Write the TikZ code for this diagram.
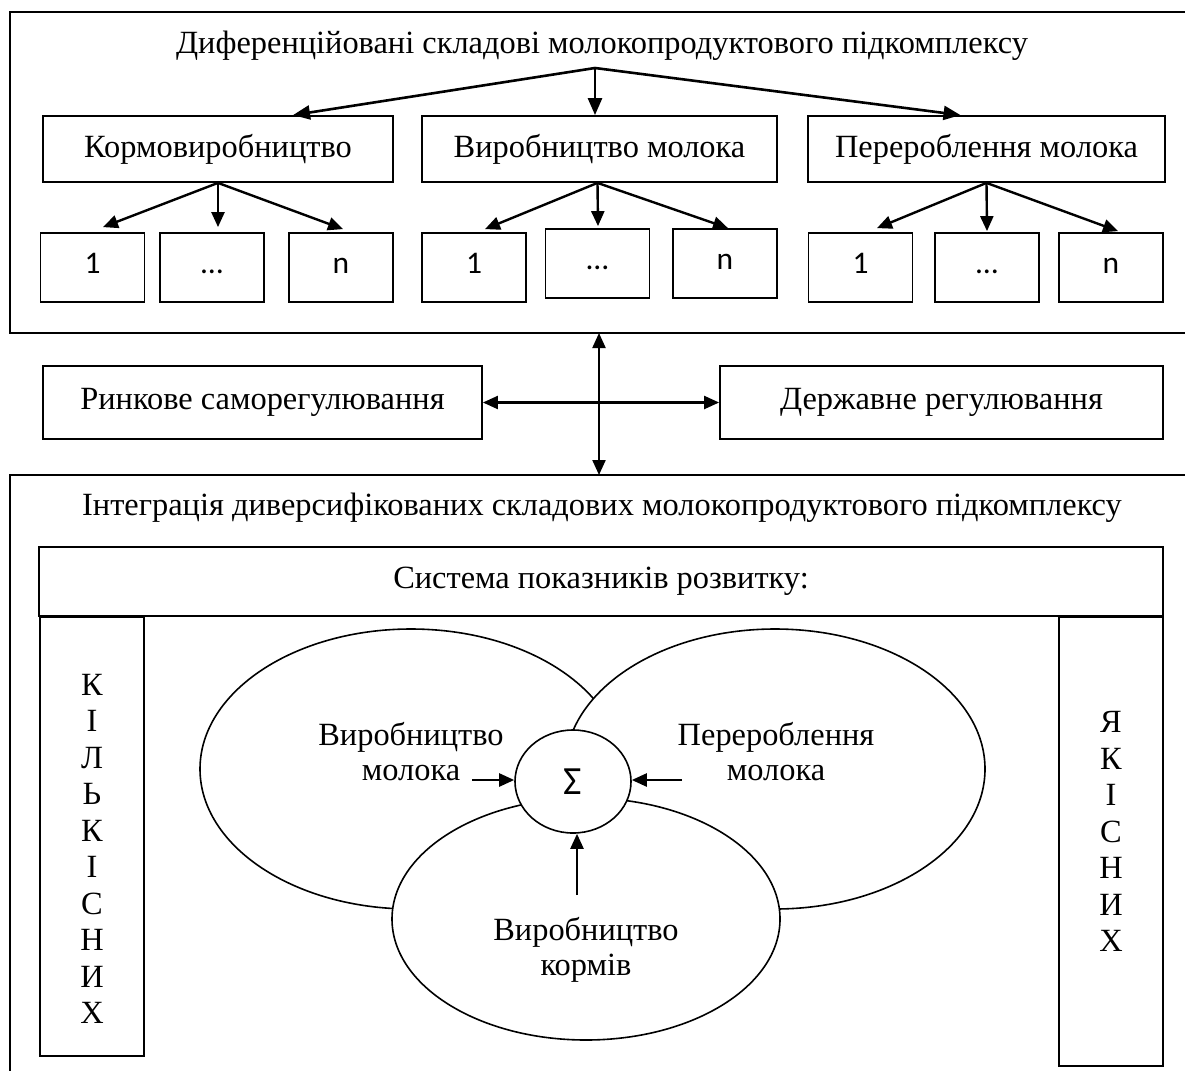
\documentclass[tikz,border=0pt]{standalone}
\usepackage{fontspec}
\setmainfont{Liberation Serif}
\newfontfamily\calib{Carlito}
\usetikzlibrary{shapes.geometric,arrows.meta,calc}
\begin{document}
\begin{tikzpicture}[x=1pt,y=-1pt,
  frame/.style={line width=1.9pt},
  txt/.style={font=\fontsize{32.4}{36.5}\selectfont, inner sep=0pt},
  box/.style={draw, line width=1.8pt, rectangle, inner sep=0pt, font=\fontsize{32.4}{36.5}\selectfont},
  numbox/.style={draw, line width=1.8pt, rectangle, minimum width=104pt, minimum height=69pt, inner sep=0pt, text height=20pt, text depth=9pt, font=\calib\fontsize{31.5}{36}\selectfont},
  arr/.style={line width=2.6pt, -{Triangle[length=17pt,width=14pt]}},
  sarr/.style={line width=2.4pt, -{Triangle[length=15pt,width=13pt]}},
  darr/.style={line width=2.2pt, {Triangle[length=15pt,width=13pt]}-{Triangle[length=15pt,width=13pt]}},
  ell/.style={draw, ellipse, line width=1.6pt, fill=white, inner sep=0pt},
]
\useasboundingbox (0,0) rectangle (1185,1071);
% ---------- top frame ----------
\draw[frame] (1185,12) -- (10,12) -- (10,333) -- (1185,333);
\node[txt,anchor=base] (t1) at (602,53) {Диференційовані складові молокопродуктового підкомплексу};
\coordinate (j) at (595,68);
\node[box,minimum width=350pt,minimum height=66pt] (k) at (218,149) {Кормовиробництво};
\node[box,minimum width=355pt,minimum height=66pt] (v) at (599.5,149) {Виробництво молока};
\node[box,minimum width=357pt,minimum height=66pt] (p) at (986.5,149) {Перероблення молока};
\draw[arr] (j) -- ($(k.north)+(75,0)$);
\draw[arr] (j) -- (j |- v.north);
\draw[arr] (j) -- ($(p.north)+(-26,0)$);
\node[numbox] (k1) at (92.5,267.5) {1};
\node[numbox] (k2) at (212,267.5) {…};
\node[numbox] (k3) at (341,267.5) {n};
\node[numbox] (v1) at (474,267.5) {1};
\node[numbox] (v2) at (597.5,263.5) {…};
\node[numbox] (v3) at (725,263.5) {n};
\node[numbox] (p1) at (860.5,267.5) {1};
\node[numbox] (p2) at (987,267.5) {…};
\node[numbox] (p3) at (1111,267.5) {n};
\draw[sarr] (k.south) -- ($(k1.north)+(10.5,-5)$);
\draw[sarr] (k.south) -- ($(k2.north)+(6,-5)$);
\draw[sarr] (k.south) -- ($(k3.north)+(2,-3)$);
\draw[sarr] ($(v.south)+(-2,0)$) -- ($(v1.north)+(11,-3)$);
\draw[sarr] ($(v.south)+(-2,0)$) -- ($(v2.north)+(0.5,-2)$);
\draw[sarr] ($(v.south)+(-2,0)$) -- ($(v3.north)+(3,0)$);
\draw[sarr] (p.south) -- ($(p1.north)+(16.5,-4)$);
\draw[sarr] (p.south) -- ($(p2.north)+(0,-1)$);
\draw[sarr] (p.south) -- ($(p3.north)+(7,-1)$);
% ---------- middle ----------
\coordinate (tb) at (599,333);
\coordinate (bb) at (599,475);
\draw[darr] (tb) -- (bb);
\node[box,minimum width=439pt,minimum height=73pt] (r) at (262.5,402.5) {Ринкове саморегулювання};
\node[box,minimum width=443pt,minimum height=73pt] (d) at (941.5,402.5) {Державне регулювання};
\draw[darr] (r.east) -- (d.west);
% ---------- bottom frame ----------
\draw[frame] (1185,475) -- (10,475) -- (10,1071);
\node[txt,anchor=base] (t2) at (602,515) {Інтеграція диверсифікованих складових молокопродуктового підкомплексу};
\node[box,minimum width=1124pt,minimum height=69pt] (s) at (601,581.5) {Система показників розвитку:};
\node[box,minimum width=104pt,minimum height=439pt] (lc) at (92,836.5) {};
\node[box,minimum width=104pt,minimum height=449pt] (rc) at (1111,841.5) {};
\node[txt,align=center] (lct) at (92,849) {К\\І\\Л\\Ь\\К\\І\\С\\Н\\И\\Х};
\node[txt,align=center] (rct) at (1111,831.5) {Я\\К\\І\\С\\Н\\И\\Х};
% ---------- ellipses ----------
\node[ell,minimum width=422pt,minimum height=280pt] (le) at (411,769) {};
\node[ell,minimum width=420pt,minimum height=280pt] (re) at (775,769) {};
\node[ell,minimum width=388pt,minimum height=242pt] (be) at (586,919) {};
\node[ell,minimum width=116pt,minimum height=103pt] (sg) at (573,781.5) {};
\node[inner sep=0pt,font=\calib\fontsize{40}{44}\selectfont] (sgt) at (sg.center) {Σ};
\node[txt,align=center,font=\fontsize{32.4}{35}\selectfont] (lt) at (411,752) {Виробництво\\молока};
\node[txt,align=center,font=\fontsize{32.4}{35}\selectfont] (rt) at (776,752) {Перероблення\\молока};
\node[txt,align=center,font=\fontsize{32.4}{35}\selectfont] (bt) at (586,950) {Виробництво\\кормів};
\coordinate (la) at (472,780);
\coordinate (ra) at (682,780);
\coordinate (ba) at (577,895);
\draw[sarr] (la) -- (la -| sg.west);
\draw[sarr] (ra) -- (ra -| sg.east);
\draw[sarr] (ba) -- (ba |- sg.south);
\end{tikzpicture}
\end{document}
